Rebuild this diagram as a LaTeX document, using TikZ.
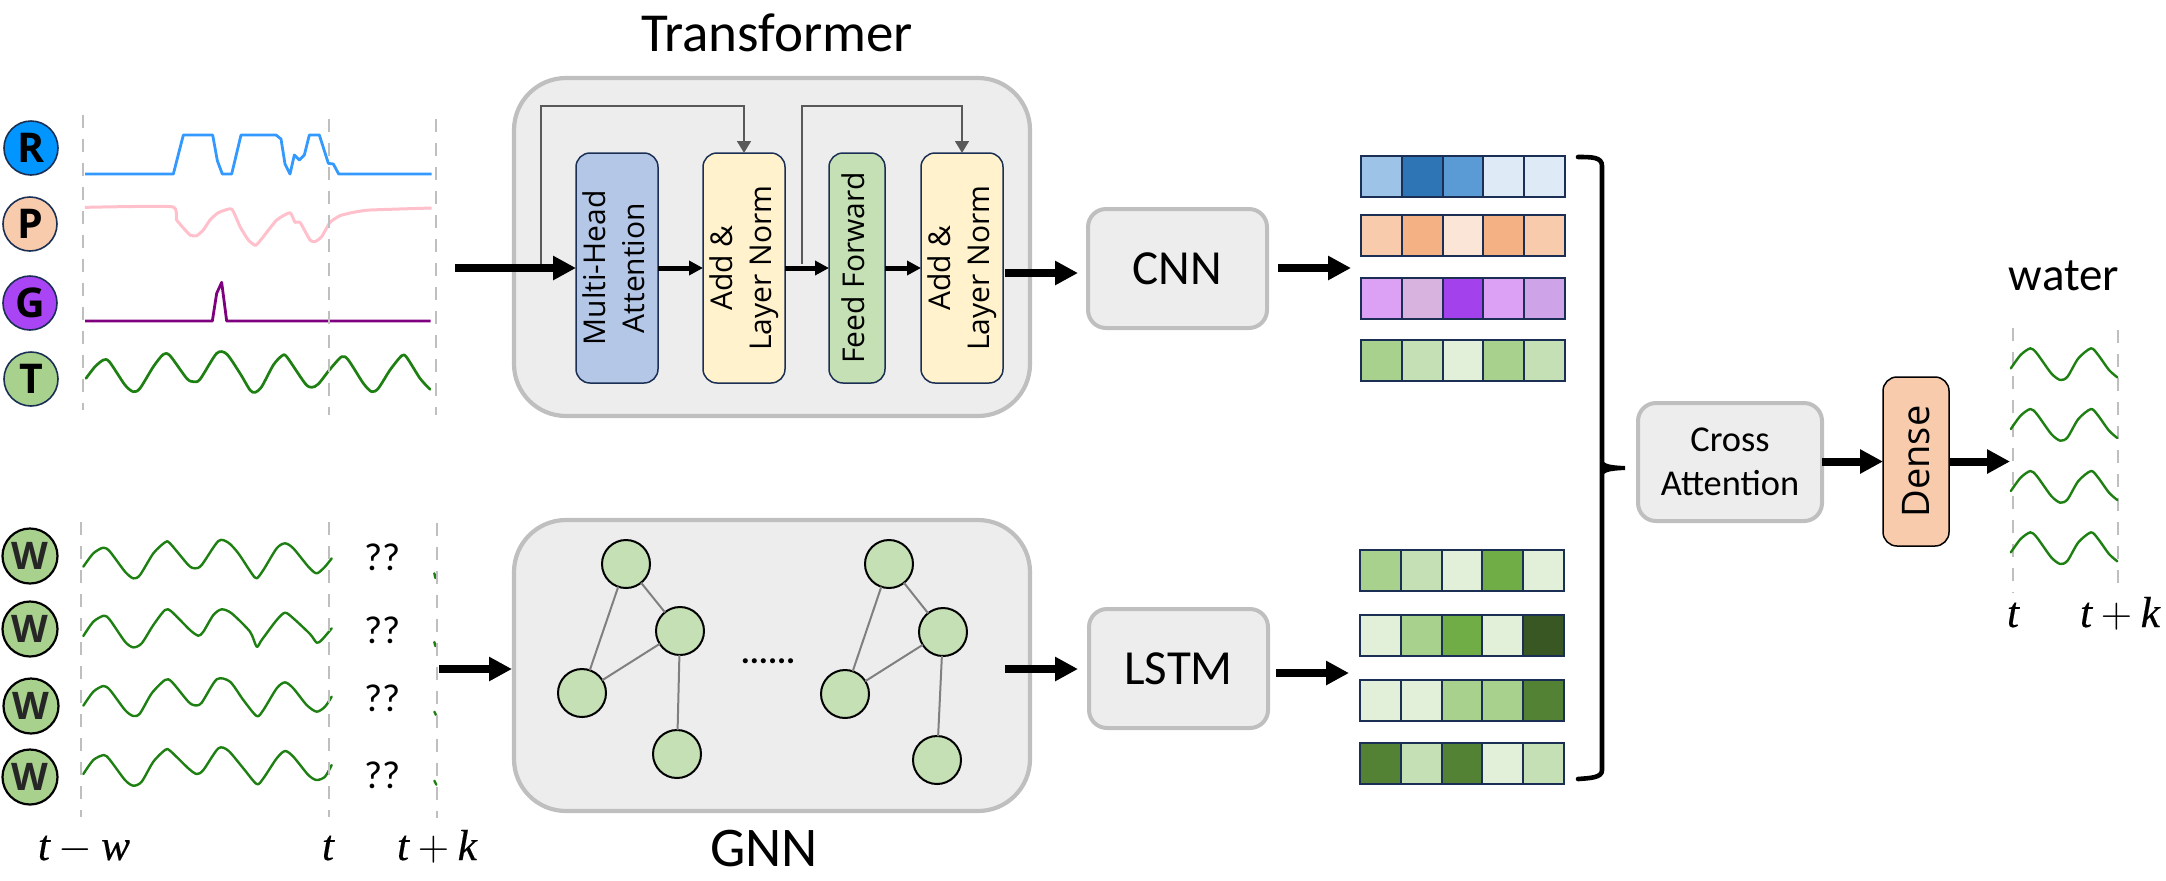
\RequirePackage{fix-cm}
\documentclass[tikz,border=0pt]{standalone}
\usepackage{graphicx}
\usepackage{fontspec}
\setmainfont{Carlito}
\newfontfamily\opensans{Open Sans}
\newfontfamily\tfont[FakeBold=.35]{Liberation Serif Italic}
\usetikzlibrary{arrows.meta}
\definecolor{panelfill}{HTML}{EDEDED}
\definecolor{panelline}{HTML}{BFBFBF}
\definecolor{navy}{HTML}{1B2F55}
\definecolor{wavegreen}{HTML}{1E8012}
\definecolor{guide}{HTML}{BFBFBF}
\definecolor{nodegreen}{HTML}{C5E0B4}
\definecolor{letgreen}{HTML}{A9D18E}
\tikzset{
  panel/.style={draw=panelline,fill=panelfill,line width=2.1pt,rounded corners=26pt,outer sep=0pt,inner sep=0pt},
  minipanel/.style={draw=panelline,fill=panelfill,line width=2pt,rounded corners=9pt,outer sep=0pt,inner sep=0pt,align=center},
  block/.style={draw=navy,line width=.75pt,rounded corners=7pt,outer sep=0pt,inner sep=0pt,minimum height=115pt},
  blocktext/.style={font=\opensans\fontsize{15}{19.5}\selectfont},
  cell/.style={draw=navy,line width=1pt,minimum width=20.4pt,minimum height=20.5pt,inner sep=0pt,outer sep=0pt},
  bigarrow/.style={line width=4pt,-{Triangle[length=11.5pt,width=11.5pt]}},
  midarrow/.style={line width=2.5pt,-{Triangle[length=7pt,width=7pt]}},
  skiparrow/.style={draw=black!65,line width=1.4pt,-{Triangle[length=6pt,width=6.8pt]}},
  lettera/.style={circle,draw=navy,line width=.8pt,minimum size=27pt,inner sep=0pt,font=\opensans\bfseries\fontsize{20.5}{21}\selectfont},
  letterw/.style={circle,draw=black,line width=1.1pt,minimum size=27.5pt,inner sep=0pt,text=black!85,fill=letgreen,font=\opensans\bfseries\fontsize{19}{20}\selectfont},
  gnode/.style={circle,draw=black,fill=nodegreen,line width=1pt,minimum size=24pt,inner sep=0pt,outer sep=0pt},
  gedge/.style={draw=black!50,line width=1pt},
  guideline/.style={draw=guide,line width=1.3pt,dash pattern=on 6.5pt off 5.5pt},
  wave/.style={draw=wavegreen,line width=1.2pt,line join=round,line cap=round},
  mathlabel/.style={inner sep=0pt,anchor=base,font=\tfont\fontsize{21.7}{25}\selectfont},
  qq/.style={inner sep=0pt,font=\fontsize{19.5}{22}\selectfont},
}
\newcommand{\dashguide}[4]{%
  \coordinate (#1a) at (#2,#3); \coordinate (#1b) at (#2,#4);
  \draw[guideline] (#1a) -- (#1b);}
\newcommand{\cellbar}[4]{%
  \foreach \c [count=\i] in {#4} {
    \definecolor{cellc}{HTML}{\c}
    \node[cell,fill=cellc] (#1c\i) at ({#2+(\i-.5)*40.8},#3) {};
  }}
\newcommand{\rot}[1]{\rotatebox{90}{\begin{tabular}{@{}c@{}}#1\end{tabular}}}
\newcommand{\wavepath}[1]{\draw[wave] plot[smooth,tension=.45] coordinates {#1};}
\begin{document}
\begin{tikzpicture}[x=.5pt,y=-.5pt]
\useasboundingbox (0,0) rectangle (2166,880);

% ---------- left: letters
\node[lettera,fill={rgb,255:red,0;green,149;blue,255}] (R) at (31,148) {R};
\node[lettera,fill={rgb,255:red,248;green,203;blue,173}] (P) at (30,224) {P};
\node[lettera,fill={rgb,255:red,169;green,69;blue,245}] (G) at (30,303) {G};
\node[lettera,fill=letgreen] (T) at (31,379) {T};
\node[letterw] (W1) at (30,556) {W};
\node[letterw] (W2) at (30,629) {W};
\node[letterw] (W3) at (31,706) {W};
\node[letterw] (W4) at (30,777) {W};

% ---------- upper curves
\begin{scope}[shift={(0,90)},x=.16667pt,y=-.16667pt]
\draw[line width=1.4pt,draw={rgb,255:red,51;green,153;blue,255},line join=round]
  (255,252)--(520,252)--(550,135)--(638,135)--(652,212)--(667,252)--(695,252)--(723,135)--(828,135)--(843,147)--(855,222)--(870,252)--(883,195)--(898,210)--(913,195)--(928,135)--(958,135)--(985,220)--(1000,222)--(1016,252)--(1295,252);
\draw[line width=1.5pt,draw={rgb,255:red,255;green,192;blue,203},line join=round] plot[smooth,tension=.3] coordinates {(255,352)(515,350)(530,390)(570,435)(590,437)(610,420)(630,390)(655,368)(695,357)(720,410)(745,450)(767,466)(790,440)(830,390)(870,368)(885,397)(900,397)(930,450)(945,455)(965,440)(990,397)(1020,377)(1060,367)(1110,360)(1295,354)};
\draw[line width=1.4pt,draw={rgb,255:red,127;green,0;blue,127},line join=round]
  (255,693)--(637,693)--(650,610)--(665,577)--(680,693)--(1292,693);
\draw[wave,line width=1.35pt] plot[smooth,tension=.45] coordinates {(258,865)(285,830)(310,810)(328,815)(375,885)(400,905)(420,895)(460,830)(490,793)(510,797)(560,865)(580,875)(600,868)(650,790)(680,792)(720,850)(750,900)(765,907)(785,890)(820,825)(845,798)(860,800)(915,880)(935,892)(955,882)(988,840)(1025,800)(1045,810)(1090,880)(1115,905)(1135,895)(1170,840)(1205,797)(1220,802)(1260,865)(1290,898)};
\end{scope}

% ---------- lower curves
\begin{scope}[shift={(0,510)},x=.16667pt,y=-.16667pt]
\wavepath{(250,170)(280,130)(310,113)(330,125)(375,185)(400,205)(420,195)(460,130)(495,97)(510,100)(565,165)(585,175)(605,165)(655,93)(685,98)(715,130)(755,190)(770,205)(790,180)(830,115)(855,100)(880,115)(925,170)(950,190)(975,170)(995,145)}
\wavepath{(250,378)(280,335)(312,317)(330,330)(375,395)(400,412)(425,400)(460,345)(495,300)(515,305)(570,360)(595,377)(610,365)(640,315)(665,298)(695,310)(750,365)(770,410)(785,390)(830,330)(855,308)(880,325)(930,372)(950,398)(965,390)(995,355)}
\wavepath{(250,587)(280,545)(310,528)(330,540)(375,600)(400,618)(420,610)(455,550)(495,510)(515,515)(565,575)(585,586)(605,578)(650,508)(690,515)(730,570)(770,618)(790,600)(830,535)(855,517)(880,535)(920,585)(950,605)(975,590)(995,560)}
\wavepath{(250,792)(280,750)(312,735)(330,750)(375,810)(400,827)(425,815)(460,755)(495,720)(510,722)(565,775)(590,792)(610,780)(655,715)(685,722)(730,775)(770,822)(790,805)(830,745)(855,723)(880,740)(925,795)(950,810)(975,800)(995,765)}
\draw[wave] (1303,190)--(1306,204);
\draw[wave] (1303,396)--(1306,408);
\draw[wave] (1303,605)--(1308,615);
\draw[wave] (1303,812)--(1309,824);
\end{scope}

% ---------- guides
\dashguide{ga}{83}{115}{410}
\dashguide{gb}{329}{119}{415}
\dashguide{gc}{436}{119}{415}
\dashguide{gd}{81}{522}{817}
\dashguide{ge}{329}{522}{817}
\dashguide{gf}{437}{523}{818}
\dashguide{gg}{2013}{328}{593}
\dashguide{gh}{2118}{330}{593}

% ---------- ?? and time labels
\node[qq] (q1) at (383,557) {??};
\node[qq] (q2) at (383,630) {??};
\node[qq] (q3) at (383,698) {??};
\node[qq] (q4) at (383,775) {??};
\node[mathlabel] (tw) at (84,860) {t\hspace{.2em}$-$\hspace{.2em}w};
\node[mathlabel] (tl) at (328,860) {t};
\node[mathlabel] (tk) at (437,860) {t\hspace{.2em}$+$\hspace{.2em}k};
\node[mathlabel] (tr2) at (2013,627) {t};
\node[mathlabel] (tkr) at (2120,627) {t\hspace{.2em}$+$\hspace{.2em}k};

% ---------- Transformer
\node[inner sep=0pt,anchor=base,font=\fontsize{27.5}{30}\selectfont] (trlabel) at (777,51) {Transformer};
\node[panel,minimum width=258pt,minimum height=169pt] (trans) at (772,247) {};
\node[block,fill={rgb,255:red,180;green,199;blue,231},minimum width=41pt,blocktext] (mha) at (617,268) {\rot{Multi-Head\\Attention}};
\node[block,fill={rgb,255:red,255;green,242;blue,204},minimum width=41pt,blocktext] (add1) at (744,268) {\rot{Add \&\\Layer Norm}};
\node[block,fill=nodegreen,minimum width=28pt,blocktext] (ff) at (857,268) {\rot{Feed Forward}};
\node[block,fill={rgb,255:red,255;green,242;blue,204},minimum width=41pt,blocktext] (add2) at (962,268) {\rot{Add \&\\Layer Norm}};

\coordinate (inA) at (455,268);
\coordinate (s1) at (541,264);
\coordinate (t1) at (744,106);
\coordinate (s2) at (802,264);
\coordinate (t2) at (962,106);
\draw[bigarrow] (inA) -- (mha.west);
\draw[skiparrow] (s1) |- (t1) -- (add1.north);
\draw[skiparrow] (s2) |- (t2) -- (add2.north);
\draw[midarrow] (mha) -- (add1);
\draw[midarrow] (add1) -- (ff);
\draw[midarrow] (ff) -- (add2);

% ---------- CNN / LSTM
\node[minipanel,minimum width=89.5pt,minimum height=59.5pt,font=\fontsize{24.5}{28}\selectfont] (cnn) at (1177.5,268.5) {CNN};
\node[minipanel,minimum width=89.5pt,minimum height=59.5pt,font=\fontsize{24.5}{28}\selectfont] (lstm) at (1178.5,668.5) {LSTM};
\coordinate (o1) at (1005,273);
\coordinate (i1) at (1078,273);
\coordinate (o2) at (1278,268);
\coordinate (i2) at (1351,268);
\coordinate (o3) at (439,669);
\coordinate (i3) at (512,669);
\coordinate (o4) at (1005,669);
\coordinate (i4) at (1078,669);
\coordinate (o5) at (1276,673);
\coordinate (i5) at (1349,673);

% ---------- GNN
\node[panel,minimum width=258pt,minimum height=145.5pt] (gnn) at (772,665.5) {};
\node[inner sep=0pt,anchor=base,font=\fontsize{28}{30}\selectfont] (gnnlabel) at (764,866) {GNN};
\node[gnode] (a1) at (626,564) {};
\node[gnode] (a2) at (680,631) {};
\node[gnode] (a3) at (582,693) {};
\node[gnode] (a4) at (677,754) {};
\node[gnode] (b1) at (889,564) {};
\node[gnode] (b2) at (943,632) {};
\node[gnode] (b3) at (845,694) {};
\node[gnode] (b4) at (937,760) {};
\draw[gedge] (a1)--(a2) (a1)--(a3) (a2)--(a3) (a2)--(a4);
\draw[gedge] (b1)--(b2) (b1)--(b3) (b2)--(b3) (b2)--(b4);
\node[inner sep=0pt,anchor=base,font=\bfseries\fontsize{17}{20}\selectfont] (dots) at (768,663) {......};

\draw[bigarrow] (o1) -- (i1);
\draw[bigarrow] (o2) -- (i2);
\draw[bigarrow] (o3) -- (i3);
\draw[bigarrow] (o4) -- (i4);
\draw[bigarrow] (o5) -- (i5);

% ---------- feature bars
\cellbar{ba}{1361}{176.5}{9DC3E6,2E75B6,5B9BD5,DEEBF7,DEEBF7}
\cellbar{bb}{1361}{235.5}{F8CBAD,F4B183,FBE5D6,F4B183,F8CBAD}
\cellbar{bc}{1361}{298.5}{DCA0F5,D9B3E0,A342EC,DCA0F5,CFA3E8}
\cellbar{bd}{1361}{360.5}{A9D18E,C5E0B4,E2F0D9,A9D18E,C5E0B4}
\cellbar{be}{1360}{570.5}{A9D18E,C5E0B4,E2F0D9,70AD47,E2F0D9}
\cellbar{bf}{1360}{635.5}{E2F0D9,A9D18E,70AD47,E2F0D9,385723}
\cellbar{bg}{1360}{700.5}{E2F0D9,E2F0D9,A9D18E,A9D18E,548235}
\cellbar{bh}{1360}{763.5}{548235,C5E0B4,548235,E2F0D9,C5E0B4}

% ---------- brace
\draw[line width=2.3pt,line cap=round] (1578,157) .. controls (1592,157) and (1602,157) .. (1602,166) -- (1602,770) .. controls (1602,778) and (1590,778) .. (1578,779);
\fill (1601,456) .. controls (1603,464) and (1606,465) .. (1625,466) -- (1625,470) .. controls (1606,471) and (1603,472) .. (1601,480) -- cycle;

% ---------- right
\node[minipanel,minimum width=92pt,minimum height=59pt,font=\fontsize{18.2}{21.7}\selectfont] (cross) at (1730,462) {Cross\\Attention};
\node[draw=black,line width=.75pt,rounded corners=7pt,outer sep=0pt,inner sep=0pt,fill={rgb,255:red,248;green,203;blue,173},minimum width=33pt,minimum height=84.5pt,font=\opensans\fontsize{19}{22}\selectfont] (dense) at (1916,461.5) {\rotatebox{90}{Dense}};
\coordinate (o6) at (1822,461.5);
\coordinate (o7) at (1949,461.5);
\coordinate (i7) at (2010,461.5);
\draw[bigarrow] (o6) -- (dense.west);
\draw[bigarrow] (o7) -- (i7);
\node[inner sep=0pt,anchor=base,font=\fontsize{23.5}{26}\selectfont] (water) at (2064,290) {water};
\begin{scope}[shift={(1600,240)},x=.1805pt,y=-.16667pt]
\foreach \d in {0,182,368,552} {
  \begin{scope}[shift={(0,\d)}]
  \wavepath{(1138,385)(1165,345)(1192,325)(1210,340)(1250,400)(1275,420)(1295,410)(1325,355)(1360,325)(1380,345)(1410,390)(1433,412)}
  \end{scope}
}
\end{scope}
\end{tikzpicture}
\end{document}
